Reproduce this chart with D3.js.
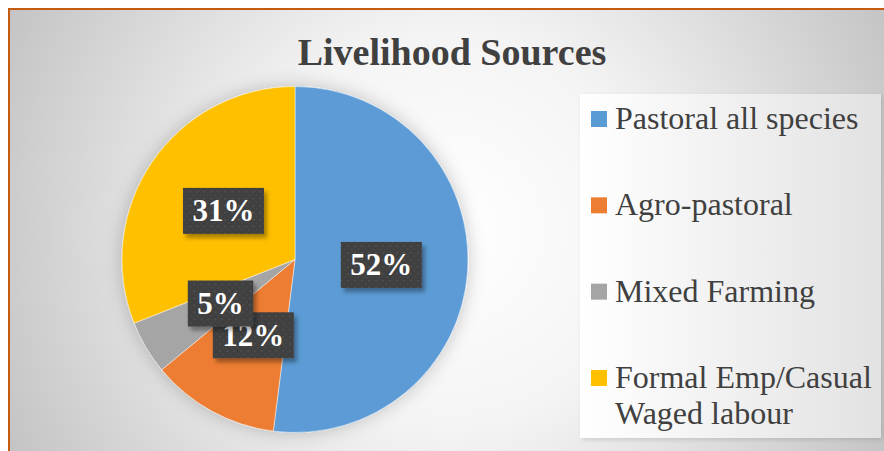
<!DOCTYPE html>
<html lang="en">
  <head>
    <meta charset="utf-8">
    <title>Livelihood Sources</title>
    <script src="https://d3js.org/d3.v7.js"></script>
    <style>
      body { margin: 0; background: #fff; }
      svg { display: block; }
    </style>
  </head>

  <body>

  <script>

// Data

  var categories = ["Pastoral all species", "Agro-pastoral", "Mixed Farming", "Formal Emp/Casual Waged labour"];
  var shares = [52, 12, 5, 31];
  var colors = ["#5B9BD5", "#ED7D31", "#A5A5A5", "#FFC000"];
  var title = "Livelihood Sources";

  var w = 884;
  var h = 451;
  var cx = 295;
  var cy = 259.5;
  var radius = 173;
  var serif = "'Liberation Serif', 'Times New Roman', serif";

  var svg = d3.select("body")
    .append("svg")
      .attr("width", w)
      .attr("height", h);

  var defs = svg.append("defs");

  var bg = defs.append("radialGradient")
      .attr("id", "bg")
      .attr("gradientUnits", "userSpaceOnUse")
      .attr("cx", 450)
      .attr("cy", 230)
      .attr("r", 490);
  bg.append("stop").attr("offset", 0).attr("stop-color", "#ffffff");
  bg.append("stop").attr("offset", 0.4).attr("stop-color", "#f4f4f4");
  bg.append("stop").attr("offset", 1).attr("stop-color", "#c4c4c4");

  var lg = defs.append("linearGradient")
      .attr("id", "legendFill")
      .attr("x1", 0).attr("y1", 0)
      .attr("x2", 1).attr("y2", 0);
  lg.append("stop").attr("offset", 0).attr("stop-color", "#ffffff");
  lg.append("stop").attr("offset", 1).attr("stop-color", "#e2e2e2");

  var dots = defs.append("pattern")
      .attr("id", "dots")
      .attr("patternUnits", "userSpaceOnUse")
      .attr("width", 7)
      .attr("height", 7);
  dots.append("rect").attr("width", 7).attr("height", 7).attr("fill", "#404040");
  dots.append("rect").attr("x", 1).attr("y", 1).attr("width", 1.4).attr("height", 1.4).attr("fill", "#585858");
  dots.append("rect").attr("x", 4.5).attr("y", 4.5).attr("width", 1.2).attr("height", 1.2).attr("fill", "#505050");

  defs.append("filter")
      .attr("id", "pieShadow")
      .attr("x", "-20%").attr("y", "-20%")
      .attr("width", "140%").attr("height", "140%")
    .append("feDropShadow")
      .attr("dx", 0).attr("dy", 0)
      .attr("stdDeviation", 9)
      .attr("flood-color", "#000")
      .attr("flood-opacity", 0.22);

  defs.append("filter")
      .attr("id", "boxShadow")
      .attr("x", "-20%").attr("y", "-20%")
      .attr("width", "150%").attr("height", "150%")
    .append("feDropShadow")
      .attr("dx", 3).attr("dy", 4)
      .attr("stdDeviation", 2)
      .attr("flood-color", "#000")
      .attr("flood-opacity", 0.35);

  defs.append("filter")
      .attr("id", "legendShadow")
      .attr("x", "-10%").attr("y", "-10%")
      .attr("width", "120%").attr("height", "120%")
    .append("feDropShadow")
      .attr("dx", 2).attr("dy", 2)
      .attr("stdDeviation", 2)
      .attr("flood-color", "#000")
      .attr("flood-opacity", 0.12);

// Chart area

  svg.append("rect")
      .attr("x", 9)
      .attr("y", 9)
      .attr("width", 900)
      .attr("height", 470)
      .attr("fill", "url(#bg)")
      .attr("stroke", "#C55A11")
      .attr("stroke-width", 2);

  svg.append("text")
      .attr("x", 452)
      .attr("y", 65)
      .attr("text-anchor", "middle")
      .attr("font-family", serif)
      .attr("font-weight", "bold")
      .attr("font-size", 38)
      .attr("fill", "#404040")
      .text(title);

// Pie

  var pie = d3.pie()
      .sort(null)
      .value(d => d);

  var arc = d3.arc()
      .innerRadius(0)
      .outerRadius(radius);

  var arcs = pie(shares);

  var g = svg.append("g")
      .attr("transform", `translate(${cx}, ${cy})`);

  g.append("g")
      .attr("filter", "url(#pieShadow)")
    .selectAll("path")
      .data(arcs)
    .enter().append("path")
      .attr("d", arc)
      .attr("fill", (d, i) => colors[i])
      .attr("stroke", "#ffffff")
      .attr("stroke-opacity", 0.6)
      .attr("stroke-width", 0.8);

  var labelSize = 31;

  var labels = g.selectAll(".label")
      .data(arcs)
    .enter().append("g")
      .attr("class", "label")
      .attr("transform", d => `translate(${arc.centroid(d)})`);

  labels.append("text")
      .attr("class", "labelText")
      .attr("text-anchor", "middle")
      .attr("y", labelSize * 0.34)
      .attr("font-family", serif)
      .attr("font-weight", "bold")
      .attr("font-size", labelSize)
      .attr("fill", "#ffffff")
      .text(d => d.value + "%");

  labels.each(function () {
    var lab = d3.select(this);
    var tw = lab.select("text").node().getComputedTextLength();
    var bw = tw + 19;
    var bh = 46;
    lab.insert("rect", "text")
        .attr("x", -bw / 2)
        .attr("y", -bh / 2)
        .attr("width", bw)
        .attr("height", bh)
        .attr("fill", "url(#dots)")
        .attr("filter", "url(#boxShadow)");
  });

// Legend

  svg.append("rect")
      .attr("x", 580)
      .attr("y", 94)
      .attr("width", 301)
      .attr("height", 344)
      .attr("fill", "url(#legendFill)")
      .attr("filter", "url(#legendShadow)");

  var legendY = d3.scalePoint()
      .domain(d3.range(categories.length))
      .range([119, 378]);

  var maxTextW = 262;

  var items = svg.append("g")
      .attr("class", "legend")
    .selectAll("g")
      .data(categories)
    .enter().append("g")
      .attr("transform", (d, i) => `translate(591, ${legendY(i)})`);

  items.append("rect")
      .attr("x", 0)
      .attr("y", -8)
      .attr("width", 16)
      .attr("height", 16)
      .attr("fill", (d, i) => colors[i]);

  items.append("text")
      .attr("x", 24)
      .attr("y", 10)
      .attr("font-family", serif)
      .attr("font-size", 32)
      .attr("fill", "#404040")
      .each(function (d) {
        var text = d3.select(this);
        var words = d.split(" ");
        var line = [];
        var lineNo = 0;
        var tspan = text.append("tspan").attr("x", 24).attr("dy", 0);
        words.forEach(function (word) {
          line.push(word);
          tspan.text(line.join(" "));
          if (tspan.node().getComputedTextLength() > maxTextW && line.length > 1) {
            line.pop();
            tspan.text(line.join(" "));
            line = [word];
            lineNo++;
            tspan = text.append("tspan")
                .attr("x", 24)
                .attr("dy", 36)
                .text(word);
          }
        });
      });

    </script>

  </body>

</html>
